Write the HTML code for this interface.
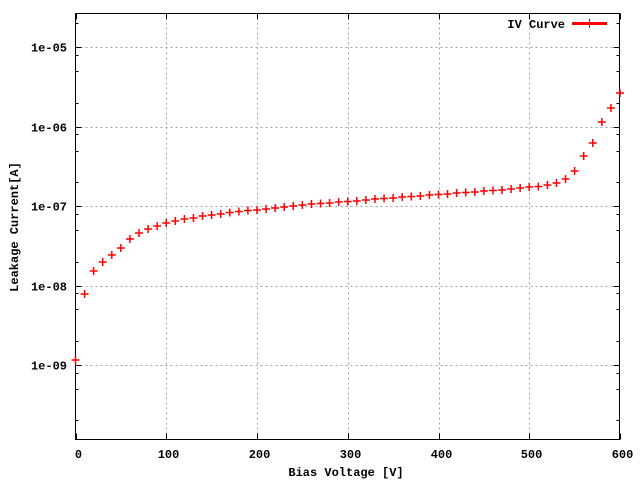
<!DOCTYPE html>
<html><head><meta charset="utf-8"><style>
html,body{margin:0;padding:0;background:#fff}
svg text{font-family:"Liberation Mono",monospace;font-weight:bold;font-size:12px;fill:#000}
</style></head><body>
<svg id="s" width="640" height="480" xmlns="http://www.w3.org/2000/svg">
<g id="grid" stroke="#a0a0a0" stroke-width="1" stroke-dasharray="2,3"></g>
<g id="tk" stroke="#000" stroke-width="1"></g>
<rect x="75.5" y="13.5" width="544" height="426" fill="none" stroke="#000" stroke-width="1"/>
<g id="lbl"></g>
<text x="346" y="476" text-anchor="middle">Bias Voltage [V]</text>
<text transform="translate(18,227) rotate(-90)" text-anchor="middle">Leakage Current[A]</text>
<text x="565" y="28" text-anchor="end">IV Curve</text>
<line x1="572" y1="23.5" x2="607" y2="23.5" stroke="#f00" stroke-width="3"/>
<line x1="589.5" y1="19" x2="589.5" y2="28" stroke="#f00" stroke-width="1"/>
<g id="pts" stroke="#f00" stroke-width="1.5"></g>
</svg>
<script>
var NS="http://www.w3.org/2000/svg";
function el(p,t,a,txt){var e=document.createElementNS(NS,t);for(var k in a)e.setAttribute(k,a[k]);if(txt!=null)e.textContent=txt;document.getElementById(p).appendChild(e);}
function X(v){return 75.5+v*0.9075;}
var L=75.5,R=619.5,T=13.5,B=439.5;
for(var i=0;i<=6;i++){var x=Math.round(X(i*100))+0.5;
 if(i>0&&i<6)el("grid","line",{x1:x,y1:B,x2:x,y2:T});
 el("tk","line",{x1:x,y1:B,x2:x,y2:B-6});el("tk","line",{x1:x,y1:T,x2:x,y2:T+6});
 el("lbl","text",{x:x+2,y:458,"text-anchor":"middle"},String(i*100));}
var dec=79.4;
function Y(e){return 47.3+(-5-e)*dec;}
var labs=["1e-05","1e-06","1e-07","1e-08","1e-09"];
for(var d=0;d<5;d++){var y=Math.round(Y(-5-d))+0.5;
 el("grid","line",{x1:L,y1:y,x2:R,y2:y});
 el("tk","line",{x1:L,y1:y,x2:L+6,y2:y});el("tk","line",{x1:R,y1:y,x2:R-6,y2:y});
 el("lbl","text",{x:67,y:y+4,"text-anchor":"end"},labs[d]);}
for(var e=-10;e<=-5;e++){[2,5,8].forEach(function(m){var y=Math.round(Y(e+Math.log10(m)))+0.5;
 if(y>T&&y<B){el("tk","line",{x1:L,y1:y,x2:L+3,y2:y});el("tk","line",{x1:R,y1:y,x2:R-3,y2:y});}});}
var ys=[360,294,271,262,255,248,239,233,229,226,223,221,219,218,216,215,214,212.5,211.5,210.5,210,209,208,207,206,205,204,203.5,203,202,201.5,201,200,199,198.5,198,197,196.5,196,195,194.5,194,193,192.5,192,191,190.5,190,189,188,187,186.5,185,183,179,171,156,143,122,108,93];
for(var i=0;i<ys.length;i++){var x=X(i*10),y=ys[i];
 el("pts","line",{x1:x-4,y1:y,x2:x+4,y2:y});el("pts","line",{x1:x,y1:y-4,x2:x,y2:y+4});}
</script>
</body></html>
